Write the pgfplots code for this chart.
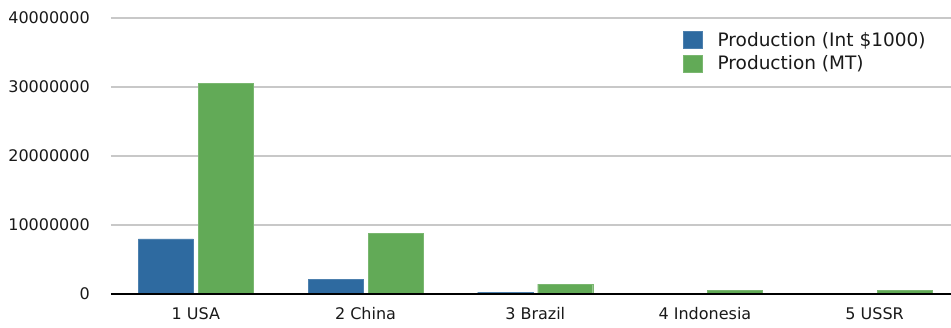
\documentclass[border=0pt]{standalone}
\usepackage{pgfplots}
\pgfplotsset{compat=1.18}
\usepackage{fontspec}
\setmainfont{DejaVu Sans}
\definecolor{prodblue}{RGB}{46,106,160}
\definecolor{prodgreen}{RGB}{98,170,87}
\definecolor{gridgray}{RGB}{200,200,200}
\begin{document}
\begin{tikzpicture}[x=1pt,y=1pt]
\begin{axis}[
  at={(0,0)}, anchor=south west,
  scale only axis,
  width=840pt, height=276pt,
  xmin=-0.5, xmax=4.45,
  ymin=0, ymax=40000000,
  ybar=5pt, bar width=55pt,
  axis line style={draw=none},
  xtick=data,
  xticklabels={1 USA,2 China,3 Brazil,4 Indonesia,5 USSR},
  ytick={0,10000000,20000000,30000000,40000000},
  yticklabels={0,10000000,20000000,30000000,40000000},
  scaled y ticks=false,
  major tick length=0pt,
  ymajorgrids,
  grid style={gridgray, line width=1.4pt},
  tick label style={font=\fontsize{16}{19}\selectfont, text=black!90},
  yticklabel style={inner sep=0pt, xshift=-21pt},
  xticklabel style={inner sep=0pt, yshift=-13pt, anchor=north},
  /pgf/number format/assume math mode=true,
  legend style={
    at={(rel axis cs:0.681,0.952)}, anchor=north west,
    draw=none, fill=none, inner sep=0pt,
    font=\fontsize{18.5}{21}\selectfont,
    row sep=6pt,
    /tikz/every even column/.append style={column sep=0pt},
    nodes={inner sep=0pt, text=black!90},
  },
  legend cell align=left,
  legend image code/.code={\fill[#1] (0pt,-8.5pt) rectangle (19pt,8.5pt); \path (34pt,0pt);},
  clip=false,
]
\addplot[fill=prodblue, draw=prodblue!85!white] coordinates {
  (0,8000000) (1,2160000) (2,290000) (3,0) (4,0)
};
\addplot[fill=prodgreen, draw=prodgreen!85!white] coordinates {
  (0,30500000) (1,8750000) (2,1440000) (3,530000) (4,530000)
};
\legend{Production (Int \$1000),Production (MT)}
\draw[black, line width=1.4pt] (rel axis cs:0,0) -- (rel axis cs:1,0);
\end{axis}
\pgfresetboundingbox
\path[use as bounding box] (-111pt,-33pt) rectangle (840pt,294pt);
\end{tikzpicture}
\end{document}
